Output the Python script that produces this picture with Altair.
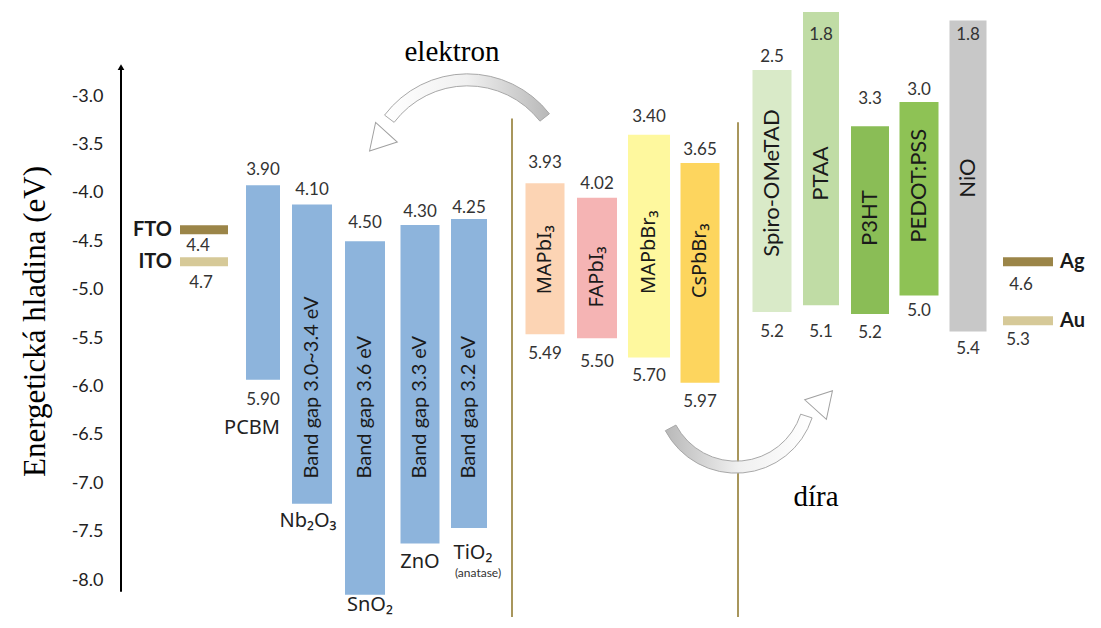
import altair as alt
import pandas as pd

# ---------------- values ----------------
materials = ["PCBM", "Nb₂O₃", "SnO₂", "ZnO", "TiO₂",
             "MAPbI₃", "FAPbI₃", "MAPbBr₃", "CsPbBr₃",
             "Spiro-OMeTAD", "PTAA", "P3HT", "PEDOT:PSS", "NiO"]
lumo_text = ["3.90", "4.10", "4.50", "4.30", "4.25",
             "3.93", "4.02", "3.40", "3.65",
             "2.5", "1.8", "3.3", "3.0", "1.8"]
homo_text = ["5.90", "", "", "", "",
             "5.49", "5.50", "5.70", "5.97",
             "5.2", "5.1", "5.2", "5.0", "5.4"]
band_top = [-3.92, -4.12, -4.50, -4.33, -4.27,
            -3.90, -4.05, -3.40, -3.69,
            -2.73, -2.13, -3.31, -3.06, -2.22]
band_bottom = [-5.93, -7.21, -8.15, -7.62, -7.46,
               -5.46, -5.50, -5.70, -5.96,
               -5.23, -5.16, -5.25, -5.06, -5.43]
inner_text = ["", "Band gap 3.0~3.4 eV", "Band gap 3.6 eV", "Band gap 3.3 eV", "Band gap 3.2 eV",
              "MAPbI₃", "FAPbI₃", "MAPbBr₃", "CsPbBr₃",
              "Spiro-OMeTAD", "PTAA", "P3HT", "PEDOT:PSS", "NiO"]
etm_names = ["PCBM", "Nb₂O₃", "SnO₂", "ZnO", "TiO₂"]

electrodes = ["FTO", "ITO", "Ag", "Au"]
work_function = [-4.38, -4.71, -4.71, -5.32]
work_text = ["4.4", "4.7", "4.6", "5.3"]

y_ticks = [-3.0, -3.5, -4.0, -4.5, -5.0, -5.5, -6.0, -6.5, -7.0, -7.5, -8.0]

# ---------------- layout / style ----------------
W, H = 972, 608
Y_MIN, Y_MAX = -8.38, -2.10
COL_PX = 50.0
X_MAX = W / COL_PX
EV_PX = (Y_MAX - Y_MIN) / H


def up(px):
    return px * EV_PX


def right(px):
    return px / COL_PX


column = [2.84, 3.82, 4.88, 5.98, 6.96,
          8.48, 9.52, 10.56, 11.58,
          13.02, 14.0, 14.98, 15.96, 16.94]
bar_px = [34, 40, 40, 39, 36, 39, 40, 42, 39, 39, 36, 38, 39, 37]
colors = ["#8db4dc"] * 5 + ["#fcd4b4", "#f5b4b4", "#fef89e", "#fdd55e",
                            "#d9eac8", "#c0dca5", "#8abd56", "#8ec255", "#c8c8c8"]
top_off = [15, 15, 18, 13, 11, 20, 14, 18, 13, 13, -23, 27, 12, -14]
bot_off = [20, 0, 0, 0, 0, 20, 24, 18, 19, 20, 27, 19, 15, 18]
inner_off = [0, 0, 0, 0, 0, -1, -9, -6, 12, 8, -15, 2, 13, -2]
name_off = [48, 17, 10, 19, 25]
name_dx = [-11, -4, 5, 0, 4]

el_col = [1.66, 1.66, 18.14, 18.14]
el_px = [48, 48, 50, 50]
el_colors = ["#9b8548", "#d6c998", "#9b8548", "#d6c998"]
el_lab_off = [16, 21, 23, 19]
el_lab_dx = [-6, -3, -7, -10]
el_name_col = [1.02, 1.02, 18.78, 18.78]

SANS = "Lato"
SUBS = "Noto Sans"
SERIF = "Liberation Serif"

xs = alt.Scale(domain=[0, X_MAX], nice=False, zero=False)
ys = alt.Scale(domain=[Y_MIN, Y_MAX], nice=False, zero=False)

bars = pd.DataFrame({
    "name": materials, "top": band_top, "bottom": band_bottom,
    "lumo": lumo_text, "homo": homo_text, "inner": inner_text,
    "col": column, "color": colors,
})
bars["x1"] = [c - right(w / 2) for c, w in zip(column, bar_px)]
bars["x2"] = [c + right(w / 2) for c, w in zip(column, bar_px)]
bars["ytop"] = [t + up(o) for t, o in zip(band_top, top_off)]
bars["ybot"] = [b - up(o) for b, o in zip(band_bottom, bot_off)]
bars["ymid"] = [(t + b) / 2 + up(o) for t, b, o in zip(band_top, band_bottom, inner_off)]

etm = bars.iloc[:5].copy()
etm["label"] = etm_names
etm["ylab"] = [b - up(o) for b, o in zip(band_bottom[:5], name_off)]
etm["xlab"] = [c + right(d) for c, d in zip(column[:5], name_dx)]
etm["ygap"] = -6.95
perov = bars.iloc[5:9].copy()
htm = bars.iloc[9:].copy()

el = pd.DataFrame({
    "name": electrodes, "wf": work_function, "txt": work_text,
    "col": el_col, "color": el_colors, "ncol": el_name_col,
})
el["x1"] = [c - right(w / 2) for c, w in zip(el_col, el_px)]
el["x2"] = [c + right(w / 2) for c, w in zip(el_col, el_px)]
el["ylab"] = [v - up(o) for v, o in zip(work_function, el_lab_off)]
el["xlab"] = [c + right(d) for c, d in zip(el_col, el_lab_dx)]

yaxis = alt.Axis(
    values=y_ticks, domain=False, ticks=False, grid=False,
    labelExpr="(datum.value < 0 ? '-' : '') + format(abs(datum.value), '.1f')",
    labelFont=SANS, labelFontSize=18, labelColor="#222", labelPadding=18,
    title="Energetická hladina (eV)", titleFont=SERIF, titleFontSize=31,
    titleFontWeight="normal", titleColor="#000", titleAngle=270,
    titleX=-86, titleY=312, titleAlign="center", titleBaseline="middle",
)


def X(f):
    return alt.X(f, scale=xs, axis=None)


def Y(f):
    return alt.Y(f, scale=ys, axis=None)


base = alt.Chart(bars)

bar_layer = base.mark_bar().encode(
    x=X("x1:Q"), x2="x2:Q",
    y=alt.Y("top:Q", scale=ys, axis=yaxis), y2="bottom:Q",
    color=alt.Color("color:N", scale=None),
)

top_lab = base.mark_text(font=SANS, fontSize=17, color="#333", baseline="middle").encode(
    x=X("col:Q"), y=Y("ytop:Q"), text="lumo:N")

bot_lab = base.mark_text(font=SANS, fontSize=17, color="#333", baseline="middle").encode(
    x=X("col:Q"), y=Y("ybot:Q"), text="homo:N")

gap_lab = alt.Chart(etm.iloc[1:]).mark_text(
    font=SANS, fontSize=20, color="#1a1a1a", angle=270, align="left", baseline="middle").encode(
    x=X("col:Q"), y=Y("ygap:Q"), text="inner:N")

perov_lab = alt.Chart(perov).mark_text(
    font=SUBS, fontSize=20, color="#1a1a1a", angle=270, align="center", baseline="middle").encode(
    x=X("col:Q"), y=Y("ymid:Q"), text="inner:N")

htm_lab = alt.Chart(htm).mark_text(
    font=SANS, fontSize=22, color="#1a1a1a", angle=270, align="center", baseline="middle").encode(
    x=X("col:Q"), y=Y("ymid:Q"), text="inner:N")

name_lab = alt.Chart(etm).mark_text(
    font=SUBS, fontSize=20, color="#222", baseline="middle").encode(
    x=X("xlab:Q"), y=Y("ylab:Q"), text="label:N")

anatase = alt.Chart(etm.iloc[4:5]).mark_text(
    font=SANS, fontSize=12, color="#333", baseline="middle", dy=20, dx=5).encode(
    x=X("xlab:Q"), y=Y("ylab:Q"), text=alt.value("(anatase)"))

el_rule = alt.Chart(el).mark_rule(strokeWidth=9, strokeCap="butt").encode(
    x=X("x1:Q"), x2="x2:Q", y=Y("wf:Q"), color=alt.Color("color:N", scale=None))

el_val = alt.Chart(el).mark_text(font=SANS, fontSize=17, color="#333", baseline="middle").encode(
    x=X("xlab:Q"), y=Y("ylab:Q"), text="txt:N")

el_left = alt.Chart(el.iloc[:2]).mark_text(
    font=SANS, fontSize=20, fontWeight="bold", color="#1a1a1a", align="right", baseline="middle").encode(
    x=X("ncol:Q"), y=Y("wf:Q"), text="name:N")
el_right = alt.Chart(el.iloc[2:]).mark_text(
    font=SANS, fontSize=20, fontWeight="bold", color="#1a1a1a", align="left", baseline="middle").encode(
    x=X("ncol:Q"), y=Y("wf:Q"), text="name:N")

# group separators
sep = pd.DataFrame({"x": [7.82, 12.34], "y": [-3.23, -3.27], "y2": [Y_MIN, Y_MIN]})
sep_layer = alt.Chart(sep).mark_rule(strokeWidth=2, color="#a8965c").encode(
    x=X("x:Q"), y=Y("y:Q"), y2="y2:Q")

# axis arrow
ax = pd.DataFrame({"x": [0.0], "y": [-2.70], "y2": [-8.12]})
ax_line = alt.Chart(ax).mark_rule(strokeWidth=2, color="#000").encode(
    x=X("x:Q"), y=Y("y:Q"), y2="y2:Q")
ax_head = alt.Chart(ax).mark_point(shape="triangle-up", filled=True, size=45, color="#000", opacity=1).encode(
    x=X("x:Q"), y=Y("y:Q"))

# curved arrows (annotations)
grad_lr = {"gradient": "linear", "x1": 0, "y1": 0, "x2": 1, "y2": 0,
           "stops": [{"offset": 0, "color": "#ffffff"}, {"offset": 0.5, "color": "#f0f0f0"},
                     {"offset": 1, "color": "#b8b8b8"}]}
grad_rl = {"gradient": "linear", "x1": 0, "y1": 0, "x2": 1, "y2": 0,
           "stops": [{"offset": 0, "color": "#b8b8b8"}, {"offset": 0.5, "color": "#f0f0f0"},
                     {"offset": 1, "color": "#ffffff"}]}
arc1 = pd.DataFrame({"x": [6.93], "y": [-3.844]})
arc2 = pd.DataFrame({"x": [12.30], "y": [-6.068]})
e_arc = alt.Chart(arc1).mark_arc(fill=grad_lr, stroke="#a8a8a8", strokeWidth=1).encode(
    x=X("x:Q"), y=Y("y:Q"),
    theta=alt.value(5.36), theta2=alt.value(7.19), radius=alt.value(92), radius2=alt.value(104))
h_arc = alt.Chart(arc2).mark_arc(fill=grad_rl, stroke="#a8a8a8", strokeWidth=1).encode(
    x=X("x:Q"), y=Y("y:Q"),
    theta=alt.value(1.885), theta2=alt.value(4.224), radius=alt.value(68), radius2=alt.value(80))
heads = pd.DataFrame({"x": [5.14, 14.06], "y": [-3.47, -6.140], "ang": [222, 42]})
head_layer = alt.Chart(heads).mark_point(shape="triangle-up", filled=True, size=850,
                                         fill="#ffffff", stroke="#a0a0a0", strokeWidth=1, opacity=1).encode(
    x=X("x:Q"), y=Y("y:Q"), angle=alt.Angle("ang:Q", scale=None))
notes = pd.DataFrame({"x": [6.62, 13.9], "y": [-2.545, -7.142], "t": ["elektron", "díra"]})
note_layer = alt.Chart(notes).mark_text(font=SERIF, fontSize=29, color="#000", baseline="middle").encode(
    x=X("x:Q"), y=Y("y:Q"), text="t:N")

chart = alt.layer(
    sep_layer, e_arc, h_arc, head_layer, bar_layer, top_lab, bot_lab, gap_lab, perov_lab, htm_lab,
    name_lab, anatase, el_rule, el_val, el_left, el_right, ax_line, ax_head, note_layer,
).resolve_axis(y="independent", x="independent").properties(
    width=W, height=H, autosize="none",
    padding={"left": 113, "top": 1, "right": 0, "bottom": 3},
    background="white",
).configure_view(stroke=None)

chart.save("out.html", embed_options={"renderer": "svg", "actions": False})
